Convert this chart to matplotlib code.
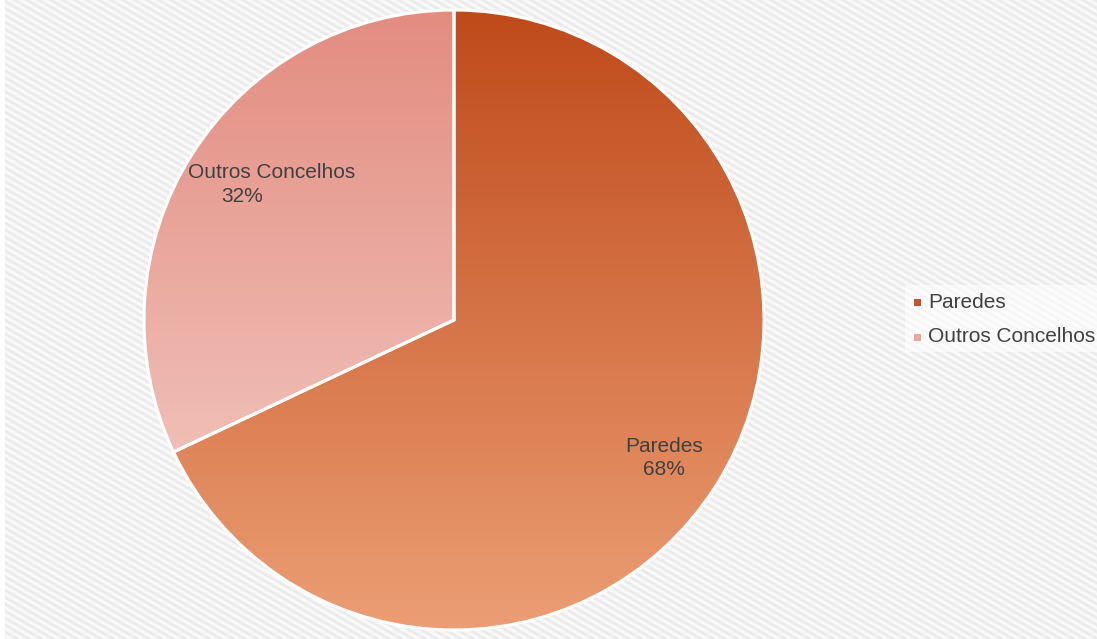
import numpy as np
import matplotlib
matplotlib.use("Agg")
import matplotlib.pyplot as plt
from matplotlib.colors import LinearSegmentedColormap, to_rgb
from matplotlib.patches import Rectangle

categories = ["Paredes", "Outros Concelhos"]
values = [68, 32]
pct_labels = ["68%", "32%"]

top_colors = ["#BF4A1A", "#E38C80"]
bottom_colors = ["#EC9E74", "#F5D3CC"]
legend_colors = ["#C5522A", "#EBA79C"]

plt.rcParams['font.family'] = ['Liberation Sans', 'DejaVu Sans']

W, H = 1097, 639
fig = plt.figure(figsize=(W / 100, H / 100), dpi=100)

# background stripes
bg = fig.add_axes([0, 0, 1, 1])
yy, xx = np.mgrid[0:H, 0:W]
phase = (-xx * 0.5 + yy * 0.866) / 6.0
s = 0.5 + 0.5 * np.sin(2 * np.pi * phase)
c1 = np.array(to_rgb("#EAEAEA"))
c2 = np.array(to_rgb("#FBFBFB"))
img = c1[None, None, :] * (1 - s[..., None]) + c2[None, None, :] * s[..., None]
img[:, :5, :] = 1.0
bg.imshow(img, extent=(0, W, 0, H), origin="upper", interpolation="nearest")
bg.set_xlim(0, W)
bg.set_ylim(0, H)
bg.axis("off")

# legend (manual, pixel coordinates)
bg.add_patch(Rectangle((905, H - 352), 192, 67, facecolor="white", alpha=0.6,
                       edgecolor="none", zorder=3))
tcol = "#404040"
fs = 15
for i, (lab, col) in enumerate(zip(categories, legend_colors)):
    yc = 302 + i * 35
    bg.add_patch(Rectangle((914, H - yc - 3.5), 7, 7, facecolor=col,
                           edgecolor="none", zorder=4))
    bg.text(928, H - yc, lab, ha="left", va="center", fontsize=fs, color=tcol, zorder=5)

# pie
cx, cy, R = 454, 320, 310
ax = fig.add_axes([(cx - R) / W, (H - cy - R) / H, 2 * R / W, 2 * R / H])

wedges, _ = ax.pie(values, startangle=90, counterclock=False, radius=1,
                   wedgeprops=dict(facecolor="none", edgecolor="white", linewidth=2.2, zorder=3))

grad = np.linspace(0, 1, 256).reshape(-1, 1)
for w, tc, bc in zip(wedges, top_colors, bottom_colors):
    cmap = LinearSegmentedColormap.from_list("g", [tc, bc])
    im = ax.imshow(grad, cmap=cmap, extent=(-1, 1, -1, 1), origin="upper",
                   aspect="auto", zorder=2)
    im.set_clip_path(w)

ax.set_xlim(-1, 1)
ax.set_ylim(-1, 1)
ax.set_aspect("equal")
ax.axis("off")

def d(px, py):
    return (px - cx) / R, (cy - py) / R

x, y = d(664, 458)
ax.text(x, y, categories[0] + "\n" + pct_labels[0], ha="center", va="center",
        fontsize=fs, color=tcol, linespacing=1.32, zorder=5)
x, y = d(272, 172)
ax.text(x, y, categories[1], ha="center", va="center", fontsize=fs, color=tcol, zorder=5)
x, y = d(242, 197)
ax.text(x, y, pct_labels[1], ha="center", va="center", fontsize=fs, color=tcol, zorder=5)

fig.savefig("out.png", dpi=100)
